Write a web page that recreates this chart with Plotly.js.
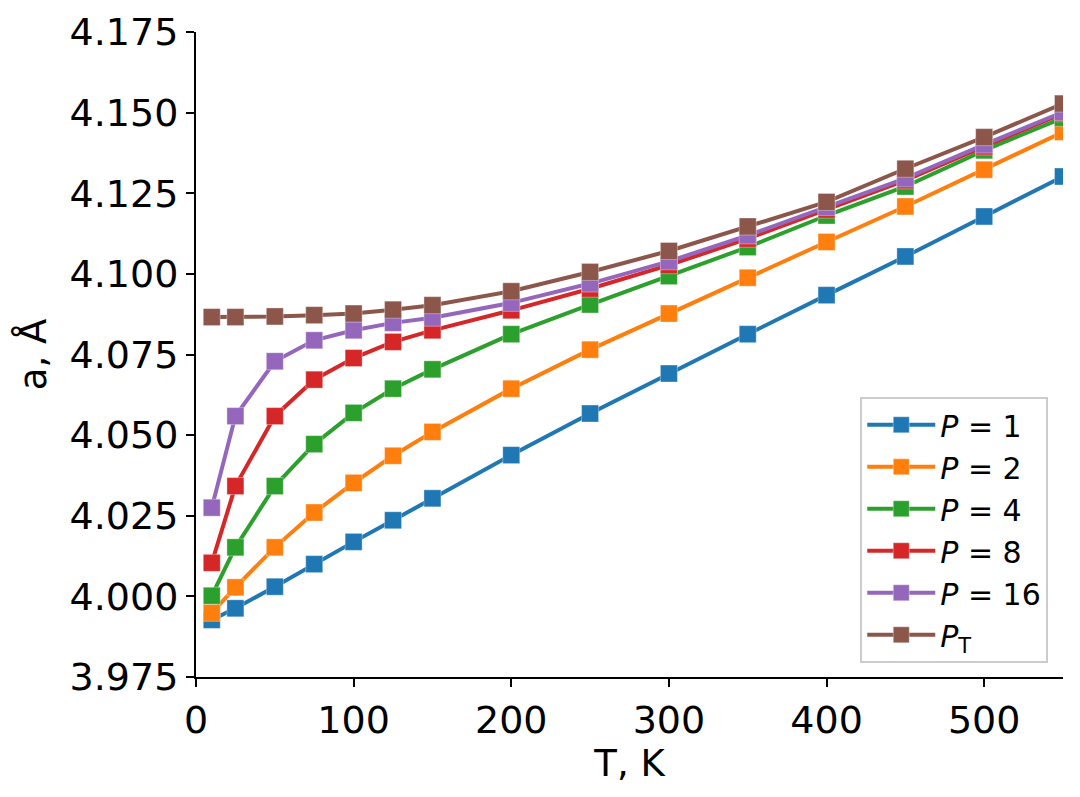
<!DOCTYPE html>
<html>
<head>
<meta charset="utf-8">
<script src="https://cdn.plot.ly/plotly-3.0.1.min.js"></script>
<style>
    html, body { margin: 0; padding: 0; background: #fff; }
    #latticeChart { width: 1080px; height: 797px; }
</style>
</head>
<body>
<div id="latticeChart"></div>
<script>
/* ============================================
   Dados
   ============================================ */
const temperatures = [10, 25, 50, 75, 100, 125, 150, 200, 250, 300, 350, 400, 450, 500, 550];

const latticeP1 = [3.9927, 3.9963, 4.0030, 4.0100, 4.0169, 4.0236, 4.0304, 4.0438, 4.0567, 4.0691, 4.0813, 4.0934, 4.1054, 4.1178, 4.1302];
const latticeP2 = [3.9949, 4.0028, 4.0152, 4.0260, 4.0352, 4.0436, 4.0510, 4.0644, 4.0765, 4.0877, 4.0988, 4.1099, 4.1209, 4.1323, 4.1440];
const latticeP4 = [4.0002, 4.0152, 4.0342, 4.0472, 4.0569, 4.0644, 4.0704, 4.0813, 4.0905, 4.0993, 4.1083, 4.1181, 4.1271, 4.1383, 4.1484];
const latticeP8 = [4.0104, 4.0342, 4.0559, 4.0672, 4.0739, 4.0789, 4.0825, 4.0887, 4.0954, 4.1027, 4.1109, 4.1199, 4.1290, 4.1395, 4.1498];
const latticeP16 = [4.0275, 4.0559, 4.0729, 4.0794, 4.0825, 4.0848, 4.0864, 4.0910, 4.0970, 4.1039, 4.1119, 4.1207, 4.1296, 4.1401, 4.1502];
const latticePT = [4.0866, 4.0866, 4.0868, 4.0872, 4.0877, 4.0889, 4.0903, 4.0946, 4.1006, 4.1071, 4.1147, 4.1223, 4.1326, 4.1424, 4.1528];

const seriesNames = ['<i>P</i> = 1', '<i>P</i> = 2', '<i>P</i> = 4', '<i>P</i> = 8', '<i>P</i> = 16', '<i>P</i><sub>T</sub>'];
const xTickValues = [0, 100, 200, 300, 400, 500];
const yTickValues = [3.975, 4.000, 4.025, 4.050, 4.075, 4.100, 4.125, 4.150, 4.175];

/* ============================================
   Gráfico
   ============================================ */
document.addEventListener('DOMContentLoaded', function () {
    const palette = ['#1f77b4', '#ff7f0e', '#2ca02c', '#d62728', '#9467bd', '#8c564b'];
    const allSeries = [latticeP1, latticeP2, latticeP4, latticeP8, latticeP16, latticePT];

    const traces = allSeries.map(function (values, i) {
        return {
            type: 'scatter',
            mode: 'lines+markers',
            x: temperatures,
            y: values,
            name: seriesNames[i],
            line: { color: palette[i], width: 4 },
            marker: {
                symbol: 'square',
                size: 17,
                color: palette[i],
                line: { color: 'rgba(255,255,255,0.35)', width: 1 }
            },
            cliponaxis: true
        };
    });

    const axisCommon = {
        showline: true,
        linecolor: '#000',
        linewidth: 2,
        ticks: 'outside',
        ticklen: 8,
        tickwidth: 2,
        tickcolor: '#000',
        showgrid: false,
        zeroline: false,
        tickfont: { size: 38, color: '#000' }
    };

    Plotly.newPlot('latticeChart', traces, {
        width: 1080,
        height: 797,
        margin: { l: 196, r: 17, t: 32, b: 120 },
        paper_bgcolor: '#fff',
        plot_bgcolor: '#fff',
        font: { family: 'DejaVu Sans, sans-serif', color: '#000' },
        xaxis: Object.assign({}, axisCommon, {
            range: [0, 550],
            tickvals: xTickValues,
            title: { text: 'T, K', font: { size: 37 }, standoff: 8 }
        }),
        yaxis: Object.assign({}, axisCommon, {
            range: [3.975, 4.175],
            tickvals: yTickValues,
            tickformat: '.3f',
            title: { text: 'a, Å', font: { size: 37 }, standoff: 12 }
        }),
        legend: {
            x: 0.983,
            y: 0.022,
            xanchor: 'right',
            yanchor: 'bottom',
            bgcolor: 'rgba(255,255,255,0.8)',
            bordercolor: '#cccccc',
            borderwidth: 2,
            font: { size: 30 },
            itemwidth: 68,
            tracegroupgap: 0
        },
        showlegend: true
    }, { displayModeBar: false });
});
</script>
</body>
</html>
